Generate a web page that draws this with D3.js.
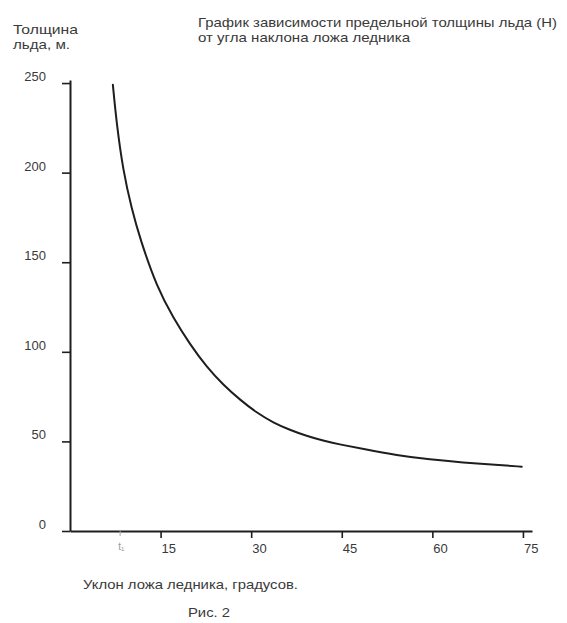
<!DOCTYPE html>
<html>
<head>
<meta charset="utf-8">
<script src="https://cdn.jsdelivr.net/npm/d3@7"></script>
<style>
  html, body { margin: 0; padding: 0; background: #fff; }
  svg { display: block; font-family: "Liberation Sans", Arial, sans-serif; }
</style>
</head>
<body>
<svg id="chart" width="567" height="623"></svg>
<script>
// ---- data ----
const slopeDeg = [7.1, 7.7, 8.8, 10.2, 11.6, 14.4, 17.1, 19.9, 22.6, 25.4, 28.2, 30.9, 33.7, 36.4, 39.2, 41.9, 44.7, 48.6, 54.1, 59.6, 65.1, 70.6, 74.8];
const iceThickness = [249, 228, 201, 180, 163, 136, 119, 104, 91.7, 81.5, 73.1, 66, 60.4, 56.4, 53, 50.4, 48.3, 45.7, 42.3, 39.9, 38.2, 36.9, 35.9];
const yTicks = [0, 50, 100, 150, 200, 250];
const yTickLabels = ["0", "50", "100", "150", "200", "250"];
const xTicks = [15, 30, 45, 60, 75];
const xTickLabels = ["15", "30", "45", "60", "75"];
const xMarker = [8.3];
const xMarkerLabel = ["t\u2081"];
const titleLines = ["График зависимости предельной толщины льда (H)", "от угла наклона ложа ледника"];
const yTitleLines = ["Толщина", "льда, м."];
const xTitle = "Уклон ложа ледника, градусов.";
const caption = "Рис. 2";

// ---- layout ----
const svg = d3.select("#chart");
const ink = "#1e1e1e";
const textInk = "#3a3a3a";
const x = d3.scaleLinear().domain([0, 76.5]).range([70, 532]);
const y = d3.scaleLinear().domain([0, 251.7]).range([531, 80]);

// y axis
const yAxis = svg.append("g").attr("transform", `translate(${x(0)},0)`)
  .call(d3.axisLeft(y).tickValues(yTicks).tickSize(8).tickSizeOuter(0).tickFormat(""));
yAxis.select(".domain").attr("stroke", ink).attr("stroke-width", 2);
yAxis.selectAll(".tick line").attr("stroke", ink).attr("stroke-width", 1.6);

svg.append("g").selectAll("text").data(yTicks).join("text")
  .attr("x", 46)
  .attr("y", d => y(d) - 2)
  .attr("text-anchor", "end")
  .attr("font-size", 13)
  .attr("fill", textInk)
  .text((d, i) => yTickLabels[i]);

// x axis
const xAxis = svg.append("g").attr("transform", `translate(0,${y(0)})`)
  .call(d3.axisBottom(x).tickValues(xTicks).tickSize(7).tickSizeOuter(0).tickFormat(""));
xAxis.select(".domain").attr("stroke", ink).attr("stroke-width", 2);
xAxis.selectAll(".tick line").attr("stroke", ink).attr("stroke-width", 1.6);

svg.append("g").selectAll("text").data(xTicks).join("text")
  .attr("x", d => x(d) + 1)
  .attr("y", 553)
  .attr("text-anchor", "start")
  .attr("font-size", 13)
  .attr("fill", textInk)
  .text((d, i) => xTickLabels[i]);

// faint marker tick
svg.append("g").selectAll("line").data(xMarker).join("line")
  .attr("x1", d => x(d)).attr("x2", d => x(d))
  .attr("y1", y(0)).attr("y2", y(0) + 5)
  .attr("stroke", "#aaa").attr("stroke-width", 1);
svg.append("g").selectAll("text").data(xMarker).join("text")
  .attr("x", d => x(d) - 2)
  .attr("y", 550)
  .attr("font-size", 10)
  .attr("fill", "#999")
  .text((d, i) => xMarkerLabel[i]);

// curve
const pts = slopeDeg.map((s, i) => [s, iceThickness[i]]);
svg.append("path")
  .datum(pts)
  .attr("fill", "none")
  .attr("stroke", ink)
  .attr("stroke-width", 2)
  .attr("stroke-linecap", "round")
  .attr("d", d3.line().x(d => x(d[0])).y(d => y(d[1])).curve(d3.curveBasis));

// titles
svg.append("g").selectAll("text").data(titleLines).join("text")
  .attr("x", 198)
  .attr("y", (d, i) => 27 + i * 15)
  .attr("font-size", 13)
  .attr("fill", textInk)
  .attr("textLength", (d, i) => i === 0 ? 359 : 212)
  .attr("lengthAdjust", "spacingAndGlyphs")
  .text(d => d);

svg.append("g").selectAll("text").data(yTitleLines).join("text")
  .attr("x", 13)
  .attr("y", (d, i) => 34 + i * 15)
  .attr("font-size", 13)
  .attr("fill", textInk)
  .attr("textLength", (d, i) => i === 0 ? 65 : 57)
  .attr("lengthAdjust", "spacingAndGlyphs")
  .text(d => d);

svg.append("text")
  .attr("x", 83).attr("y", 589)
  .attr("font-size", 13).attr("fill", textInk)
  .attr("textLength", 215).attr("lengthAdjust", "spacingAndGlyphs")
  .text(xTitle);

svg.append("text")
  .attr("x", 188).attr("y", 617)
  .attr("font-size", 12).attr("fill", textInk)
  .attr("textLength", 42).attr("lengthAdjust", "spacingAndGlyphs")
  .text(caption);
</script>
</body>
</html>
